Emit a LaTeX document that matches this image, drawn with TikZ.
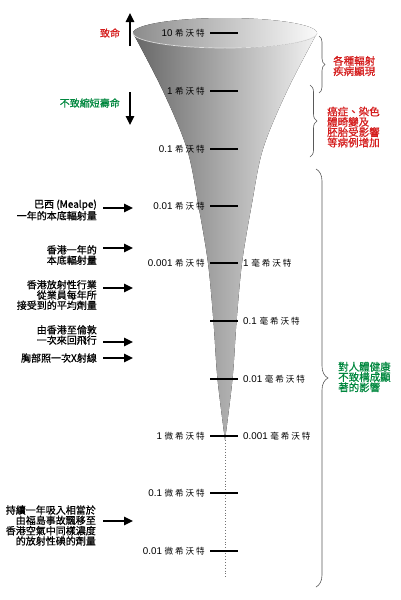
\documentclass[tikz,border=0pt]{standalone}
\usepackage{fontspec}
\setmainfont{Liberation Sans}
\newfontfamily\cjk[FakeBold=0.7]{Noto Sans CJK TC}
\newfontfamily\cjkunit[LetterSpace=22]{Noto Sans CJK TC}
\usetikzlibrary{arrows.meta,decorations.pathreplacing,calc}
\definecolor{dred}{RGB}{212,28,28}
\definecolor{dgreen}{RGB}{0,135,62}
\newcommand\unitsv[1]{#1\ {\cjkunit\fontsize{8.6}{9}\selectfont 希沃特}}
\newcommand\unitmsv[1]{#1\ {\cjkunit\fontsize{8.6}{9}\selectfont 毫希沃特}}
\newcommand\unitusv[1]{#1\ {\cjkunit\fontsize{8.6}{9}\selectfont 微希沃特}}
\tikzset{
  llab/.style={font=\cjk\fontsize{10}{10.3}\selectfont, inner sep=0pt, align=right, anchor=east},
  rlab/.style={font=\cjk\fontsize{10.5}{10.3}\selectfont, inner sep=0pt, align=left, anchor=west},
  tlabl/.style={font=\fontsize{9.8}{10}\selectfont, inner sep=0pt, anchor=east},
  tlabr/.style={font=\fontsize{9.8}{10}\selectfont, inner sep=0pt, anchor=west},
  tickline/.style={line width=1.8pt},
  arr/.style={line width=1.4pt, -{Triangle[length=9pt,width=8.5pt]}},
  brc/.style={decorate, decoration={brace, amplitude=#1}, draw=black!65, line width=0.6pt},
}
\begin{document}
\begin{tikzpicture}[x=1pt,y=-1pt]
\useasboundingbox (0,0) rectangle (400,600);
% funnel body
\fill[left color=black!60, middle color=black!32, right color=black!5]
  plot[smooth,tension=0.55] coordinates {(133,33) (163,91) (187,149) (198.5,206) (208,263) (213.5,322) (217.5,379) (225,440)}
  -- plot[smooth,tension=0.55] coordinates {(225,440) (232.5,379) (236.5,322) (242,263) (251.5,206) (263,149) (287,91) (317,33)}
  -- plot[domain=0:180,samples=60,variable=\t] ({225+92*cos(\t)},{33+15*sin(\t)}) -- cycle;
% top opening
\fill[left color=black!45, right color=black!2] (225,33) ellipse [x radius=92pt, y radius=15pt];
\draw[black!12, line width=0.7pt] plot[domain=0:180,samples=60,variable=\t] ({225+92*cos(\t)},{33+15*sin(\t)});
% dotted continuation
\coordinate (tip) at (225,440);
\coordinate (dotend) at (225,578);
\draw[black!55, dotted, line width=0.9pt] (tip) -- (dotend);
% ticks
\foreach \n/\y in {1/33,2/91,3/149,4/206,5/263,6/321,7/379,8/436,9/493,10/551}{
  \coordinate (ta\n) at (210,\y);
  \coordinate (tb\n) at (238,\y);
  \draw[tickline] (ta\n) -- (tb\n);
}
% left tick labels
\node[tlabl] (s10) at (205,33) {\unitsv{10}};
\node[tlabl] (s1) at (205,91) {\unitsv{1}};
\node[tlabl] (s01) at (205,149) {\unitsv{0.1}};
\node[tlabl] (s001) at (205,206) {\unitsv{0.01}};
\node[tlabl] (s0001) at (205,263) {\unitsv{0.001}};
\node[tlabl] (u1) at (205,436) {\unitusv{1}};
\node[tlabl] (u01) at (205,493) {\unitusv{0.1}};
\node[tlabl] (u001) at (205,551) {\unitusv{0.01}};
% right tick labels
\node[tlabr] (m1) at (243,263) {\unitmsv{1}};
\node[tlabr] (m01) at (243,321) {\unitmsv{0.1}};
\node[tlabr] (m001) at (243,379) {\unitmsv{0.01}};
\node[tlabr] (m0001) at (243,436) {\unitmsv{0.001}};
% fatal / not shortening life
\node[llab, text=dred, anchor=center] (fatal) at (110,33) {致命};
\node[llab, text=dgreen] (nolife) at (120,103) {不致縮短壽命};
\coordinate (up1) at (130,46); \coordinate (up2) at (130,13);
\draw[arr] (up1) -- (up2);
\coordinate (dn1) at (130,92); \coordinate (dn2) at (130,125);
\draw[arr] (dn1) -- (dn2);
% left examples
\node[llab] (e1) at (97,210) {巴西 (Mealpe)\\一年的本底輻射量};
\node[llab] (e2) at (97,255) {香港一年的\\本底輻射量};
\node[llab] (e3) at (97,295) {香港放射性行業\\從業員每年所\\接受到的平均劑量};
\node[llab] (e4) at (97,335) {由香港至倫敦\\一次來回飛行};
\node[llab] (e5) at (97,358) {胸部照一次X射線};
\node[llab] (e6) at (96,525.5) {持續一年吸入相當於\\由福島事故飄移至\\香港空氣中同樣濃度\\的放射性碘的劑量};
\foreach \n/\y in {1/208,2/248,3/288,4/342,5/358,6/521}{
  \coordinate (as\n) at (103,\y);
  \coordinate (ae\n) at (133,\y);
  \draw[arr] (as\n) -- (ae\n);
}
% braces
\coordinate (b1a) at (319,36); \coordinate (b1b) at (319,93);
\draw[brc=6pt] (b1a) -- (b1b);
\coordinate (b2a) at (310,85); \coordinate (b2b) at (310,157);
\draw[brc=7pt] (b2a) -- (b2b);
\coordinate (b3a) at (316,169); \coordinate (b3b) at (316,587);
\draw[brc=12pt] (b3a) -- (b3b);
% right texts
\node[rlab, text=dred] (r1) at (333,66) {各種輻射\\疾病顯現};
\node[rlab, text=dred] (r2) at (327,127) {癌症、染色\\體畸變及\\胚胎受影響\\等病例增加};
\node[rlab, text=dgreen] (r3) at (338,377) {對人體健康\\不致構成顯\\著的影響};
\end{tikzpicture}
\end{document}
